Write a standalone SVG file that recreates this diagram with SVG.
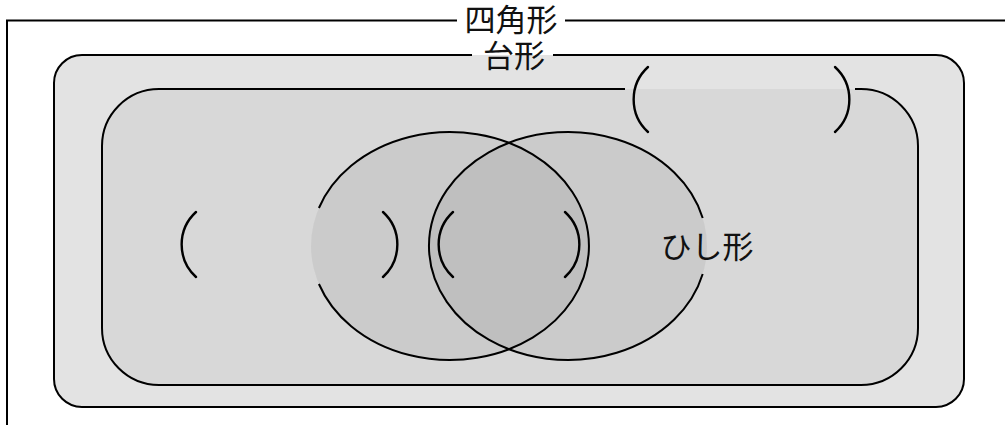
<svg xmlns="http://www.w3.org/2000/svg" width="1005" height="425" viewBox="0 0 1005 425">
<style>
.ln{fill:none;stroke:#000;stroke-width:2}
.br{fill:none;stroke:#000;stroke-width:2.4;stroke-linecap:round}
.lbl{font-family:"Liberation Sans","Noto Sans CJK JP","Noto Sans CJK SC",sans-serif;font-size:31px;fill:#111;text-anchor:middle;dominant-baseline:central}
.ell{fill:#000;fill-opacity:0.06;stroke:none}
</style>
<rect width="1005" height="425" fill="#fff"/>
<g id="quadrilateral">
  <path class="ln" d="M 457 20.5 H 7 V 425 M 565 20.5 H 1005"/>
  <text class="lbl" x="511" y="20">四角形</text>
</g>
<g id="trapezoid">
  <rect x="54" y="55" width="910" height="352" rx="28" fill="#e3e3e3"/>
  <path class="ln" d="M 472 55 H 82 A 28 28 0 0 0 54 83 V 379 A 28 28 0 0 0 82 407 H 936 A 28 28 0 0 0 964 379 V 83 A 28 28 0 0 0 936 55 H 553"/>
  <text class="lbl" x="514" y="56">台形</text>
</g>
<g id="parallelogram">
  <rect x="102" y="89" width="816" height="296" rx="57" fill="#d8d8d8"/>
  <path class="ln" d="M 625 89 H 159 A 57 57 0 0 0 102 146 V 328 A 57 57 0 0 0 159 385 H 861 A 57 57 0 0 0 918 328 V 146 A 57 57 0 0 0 861 89 H 855"/>
  <path class="br" d="M 648 67 A 44 44 0 0 0 648 132"/>
  <path class="br" d="M 835 67 A 44 44 0 0 1 835 132"/>
</g>
<g id="rectangle">
  <ellipse class="ell" cx="450" cy="246" rx="139" ry="114"/>
  <path class="ln" d="M 318.9 208 A 139 114 0 1 1 318.9 284"/>
  <path class="br" d="M 196 212 A 44 44 0 0 0 196 277"/>
  <path class="br" d="M 383 212 A 44 44 0 0 1 383 277"/>
</g>
<g id="rhombus">
  <ellipse class="ell" cx="568" cy="246" rx="139" ry="114"/>
  <path class="ln" d="M 702.7 274 A 139 114 0 1 1 702.7 218"/>
  <text class="lbl" x="707" y="247">ひし形</text>
</g>
<g id="square">
  <path class="br" d="M 453 212 A 44 44 0 0 0 453 277"/>
  <path class="br" d="M 565 212 A 44 44 0 0 1 565 277"/>
</g>
<g id="connectors"></g>
</svg>
